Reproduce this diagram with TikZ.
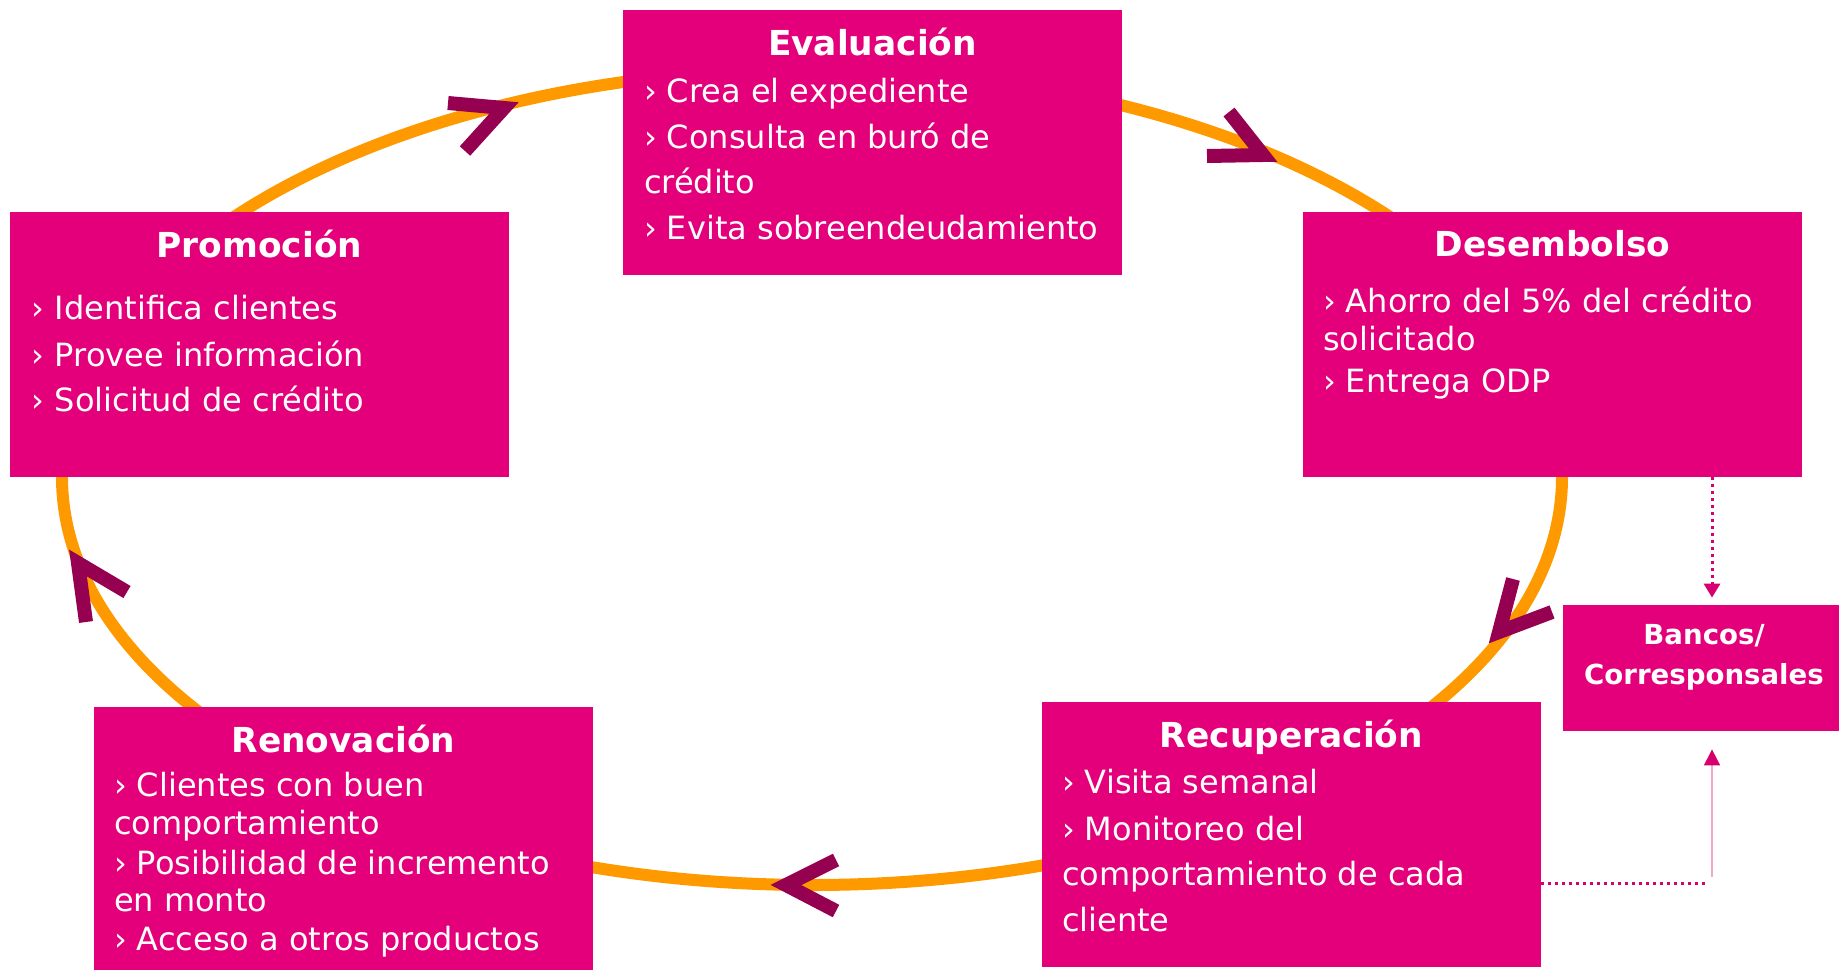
\documentclass[tikz,border=0pt]{standalone}
\usepackage{fontspec}
\setmainfont{DejaVu Sans}
\usetikzlibrary{arrows.meta}
\definecolor{cajamag}{RGB}{227,0,122}
\definecolor{flechamag}{RGB}{150,0,80}
\definecolor{ciclonar}{RGB}{255,153,0}
\definecolor{puntomag}{RGB}{214,0,110}
\definecolor{puntorosa}{RGB}{244,166,203}
\begin{document}
\begin{tikzpicture}[x=0.5pt,y=-0.5pt,
        caja/.style={fill=cajamag,inner sep=0pt,minimum width=249.5pt,minimum height=132.5pt},
        titulo/.style={anchor=base,text=white,inner sep=0pt,font=\fontsize{17.2}{20}\selectfont\bfseries},
        punto/.style={anchor=base west,text=white,inner sep=0pt,font=\fontsize{16}{19}\selectfont},
        chevron/.style={draw=flechamag,line width=7pt,line join=miter,line cap=butt},
        ciclo/.style={draw=ciclonar,line width=6pt},
        enlace/.style={draw=puntomag,line width=1.5pt,dash pattern=on 1.5pt off 2pt}]
        \useasboundingbox (0,0) rectangle (1839,969);
        \draw[ciclo] (812,477) ellipse [x radius=750,y radius=408]; % the cycle
        \draw[chevron] (448,103) -- (504,108) -- (465,151);
        \draw[chevron] (1229,112) -- (1263,155) -- (1207,156);
        \draw[chevron] (1513,579) -- (1499,632) -- (1552,612);
        \draw[chevron] (836,860) -- (786,885) -- (836,911);
        \draw[chevron] (127,592) -- (78,563) -- (86,622);

        % the five stages
        \node[caja] (eval) at (872.5,142.5) {};
        \node[caja] (promo) at (259.5,344.5) {};
        \node[caja] (desem) at (1552.5,344.5) {};
        \node[caja] (recu) at (1291.5,834.5) {};
        \node[caja] (reno) at (343.5,839.5) {};
        \node[caja,minimum width=141pt,minimum height=63pt] (banc) at (1704,668) {};

        \node[titulo] (eval-t) at ([yshift=-23pt]eval.north) {Evaluación};
        \node[titulo] (promo-t) at ([yshift=-23pt]promo.north) {Promoción};
        \node[titulo] (desem-t) at ([yshift=-22.5pt]desem.north) {Desembolso};
        \node[titulo] (recu-t) at ([yshift=-23pt]recu.north) {Recuperación};
        \node[titulo] (reno-t) at ([yshift=-23pt]reno.north) {Renovación};
        \node[titulo,font=\fontsize{13.8}{16}\selectfont\bfseries] (banc-1) at ([yshift=-19.8pt]banc.north) {Bancos/};
        \node[titulo,font=\fontsize{13.8}{16}\selectfont\bfseries] (banc-2) at ([yshift=-39.8pt]banc.north) {Corresponsales};

        \foreach \d/\t [count=\i] in {92.7/{› Crea el expediente},138.4/{› Consulta en buró de},
                184.2/{crédito},229.9/{› Evita sobreendeudamiento}}
                \node[punto] (eval-\i) at ([shift={(21,\d)}]eval.north west) {\t};
        \foreach \d/\t [count=\i] in {107.7/{› Identifica clientes},154.6/{› Provee información},
                200.3/{› Solicitud de crédito}}
                \node[punto] (promo-\i) at ([shift={(22,\d)}]promo.north west) {\t};
        \foreach \d/\t [count=\i] in {100.6/{› Ahorro del 5\% del crédito},139.3/{solicitado},
                180.4/{› Entrega ODP}}
                \node[punto] (desem-\i) at ([shift={(20,\d)}]desem.north west) {\t};
        \foreach \d/\t [count=\i] in {91.6/{› Visita semanal},138.5/{› Monitoreo del},
                184.2/{comportamiento de cada},230/{cliente}}
                \node[punto] (recu-\i) at ([shift={(20,\d)}]recu.north west) {\t};
        \foreach \d/\t [count=\i] in {90/{› Clientes con buen},127.6/{comportamiento},
                167.5/{› Posibilidad de incremento},205/{en monto},243.7/{› Acceso a otros productos}}
                \node[punto] (reno-\i) at ([shift={(20,\d)}]reno.north west) {\t};

        % dotted links to the banks
        \coordinate (bx) at (1712,0);
        \coordinate (ry) at (0,883);
        \draw[enlace,-{Triangle[length=7pt,width=8pt]},shorten >=3.5pt] (desem.south -| bx) -- (bx |- banc.north);
        \draw[enlace] (recu.east |- ry) -- (1707,883);
        \draw[draw=puntorosa,line width=0.75pt,-{Triangle[length=8pt,width=8pt,color=puntomag]},shorten >=9pt] (1712,877) -- (bx |- banc.south);
\end{tikzpicture}
\end{document}
